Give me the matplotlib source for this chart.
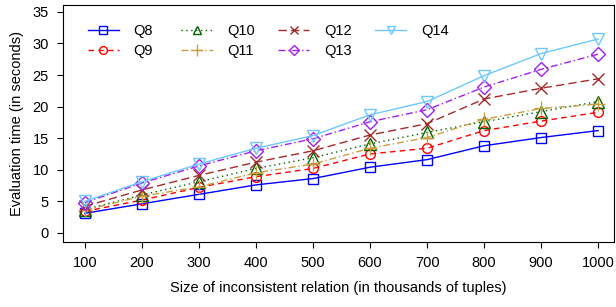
import matplotlib
matplotlib.use("Agg")
import matplotlib.pyplot as plt
from matplotlib.legend import Legend

plt.rcParams['font.family'] = ['Liberation Sans', 'DejaVu Sans']

sizes = [100, 200, 300, 400, 500, 600, 700, 800, 900, 1000]
q8 = [3.1, 4.6, 6.1, 7.6, 8.6, 10.4, 11.6, 13.8, 15.1, 16.2]
q9 = [3.4, 5.2, 7.2, 8.9, 10.2, 12.5, 13.4, 16.2, 17.7, 19.1]
q10 = [3.7, 6.0, 8.1, 10.2, 11.9, 14.1, 15.9, 17.6, 19.2, 20.8]
q11 = [3.6, 5.8, 7.3, 9.5, 10.9, 13.4, 15.1, 18.0, 19.7, 20.4]
q12 = [4.2, 6.8, 9.1, 11.2, 13.0, 15.5, 17.3, 21.2, 22.9, 24.4]
q13 = [4.8, 7.9, 10.6, 13.0, 14.9, 17.6, 19.5, 23.1, 25.9, 28.3]
q14 = [5.0, 8.1, 10.9, 13.4, 15.4, 18.7, 20.8, 24.9, 28.4, 30.7]
labels = ['Q8', 'Q9', 'Q10', 'Q11', 'Q12', 'Q13', 'Q14']
series = [q8, q9, q10, q11, q12, q13, q14]
colors = ['#0000ff', '#ff0000', '#006400', '#c8a040', '#a52a2a', '#a020f0', '#6ec8ff']
markers = ['s', 'o', '^', '+', 'x', 'D', 'v']
styles = ['-', (0, (4, 3)), (0, (1, 2.5)), (0, (5, 2, 1, 2)), (0, (6, 3)), (0, (5, 2, 1, 2)), '-']
msizes = [7, 7, 8, 10, 8, 7, 8]

fig = plt.figure(figsize=(6.16, 3.07), dpi=100)
ax = fig.add_axes([0.102, 0.212, 0.895, 0.772])
lines = []
for y, lab, c, m, ls, ms in zip(series, labels, colors, markers, styles, msizes):
    ln, = ax.plot(sizes, y, color=c, marker=m, linestyle=ls, linewidth=1.0,
                  markersize=ms, markerfacecolor='none', markeredgecolor=c,
                  markeredgewidth=1.0, label=lab)
    lines.append(ln)

ax.set_xlim(61.4, 1028)
ax.set_ylim(-1.43, 36.1)
ax.set_xticks(sizes)
ax.set_yticks([0, 5, 10, 15, 20, 25, 30, 35])
ax.tick_params(labelsize=10.5, direction='out', length=4, pad=6)
ax.set_xlabel('Size of inconsistent relation (in thousands of tuples)', fontsize=10.5, labelpad=8)
ax.set_ylabel('Evaluation time (in seconds)', fontsize=10.5, labelpad=6)

col_x = [0.045, 0.215, 0.390, 0.566]
groups = [[0, 1], [2, 3], [4, 5], [6]]
for x0, g in zip(col_x, groups):
    leg = Legend(ax, [lines[i] for i in g], [labels[i] for i in g],
                 frameon=False, loc='upper left', bbox_to_anchor=(x0, 0.918),
                 borderaxespad=0, borderpad=0, fontsize=10.5,
                 handlelength=2.15, handletextpad=1.0, labelspacing=0.42,
                 markerscale=0.8)
    ax.add_artist(leg)
fig.savefig('out.png', dpi=100)
